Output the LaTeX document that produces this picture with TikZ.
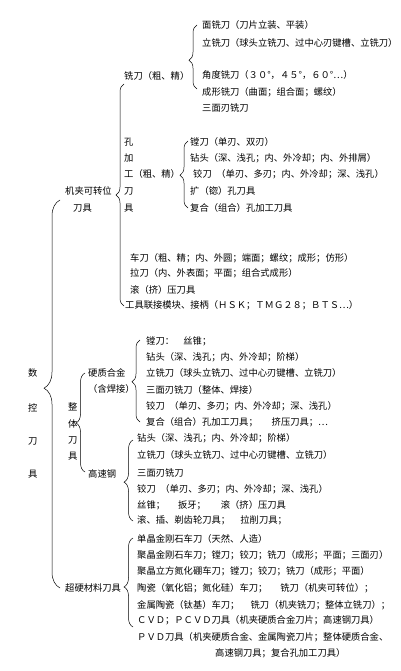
\documentclass[tikz,border=0pt]{standalone}
\usepackage{fontspec}
\setmainfont{Noto Sans CJK SC}
\usetikzlibrary{decorations.pathreplacing}

\tikzset{
  txt/.style={anchor=west, inner sep=0pt, font=\fontsize{9.3}{11}\selectfont},
  brc/.style 2 args={decorate, decoration={brace, amplitude=#1, aspect=#2}, line width=0.5pt},
}

\begin{document}
\begin{tikzpicture}[x=1pt,y=-1pt]
  \useasboundingbox (0,0) rectangle (400,671);

  % root column
  \foreach \c/\y [count=\i] in {数/373,控/408,刀/441,具/474}
    \node[txt] (root\i) at (28,\y) {\c};

  % first level
  \node[txt] (jj1) at (65,191) {机夹可转位};
  \node[txt] (jj2) at (73,208) {刀具};
  \foreach \c/\y [count=\i] in {整/407,体/424,刀/440,具/456}
    \node[txt] (zt\i) at (68,\y) {\c};
  \node[txt] (cy) at (65,588) {超硬材料刀具};

  % 机夹可转位刀具
  \node[txt] (mill) at (124,76) {铣刀（粗、精）};
  \foreach \t/\y [count=\i] in {面铣刀（刀片立装、平装）/25,
      立铣刀（球头立铣刀、过中心刃键槽、立铣刀）/43,
      角度铣刀（３０°，４５°，６０°…）/75,
      成形铣刀（曲面；组合面；螺纹）/92,
      三面刃铣刀/108}
    \node[txt] (mill\i) at (202,\y) {\t};

  \foreach \c/\y [count=\i] in {孔/142,加/158,工（粗、精）/174,刀/191,具/208}
    \node[txt] (hole\i) at (124,\y) {\c};
  \foreach \t/\y [count=\i] in {镗刀（单刃、双刃）/142,
      钻头（深、浅孔；内、外冷却；内、外排屑）/158,
      \hspace*{3pt}铰刀\hspace{0.5em}（单刃、多刃；内、外冷却；深、浅孔）/174,
      扩（锪）孔刀具/191,
      复合（组合）孔加工刀具/208}
    \node[txt] (hk\i) at (190,\y) {\t};

  \foreach \t/\y [count=\i] in {车刀（粗、精；内、外圆；端面；螺纹；成形；仿形）/258,
      拉刀（内、外表面；平面；组合式成形）/273,
      滚（挤）压刀具/290}
    \node[txt] (jx\i) at (130,\y) {\t};
  \node[txt] (lj) at (125,305) {工具联接模块、接柄（ＨＳＫ；ＴＭＧ２８；ＢＴＳ…）};

  % 整体刀具
  \node[txt] (yz1) at (88,373) {硬质合金};
  \node[txt] (yz2) at (88,389) {（含焊接）};
  \node[txt] (gs) at (88,474) {高速钢};
  \foreach \t/\y [count=\i] in {镗刀：\hspace{1em}丝锥；/341,
      钻头（深、浅孔；内、外冷却；阶梯）/357,
      立铣刀（球头立铣刀、过中心刃键槽、立铣刀）/373,
      三面刃铣刀（整体、焊接）/390,
      铰刀\hspace{0.5em}（单刃、多刃；内、外冷却；深、浅孔）/406,
      复合（组合）孔加工刀具；\hspace{1.5em}挤压刀具；…/422}
    \node[txt] (yzk\i) at (146,\y) {\t};
  \foreach \t/\y [count=\i] in {钻头（深、浅孔；内、外冷却；阶梯）/438,
      立铣刀（球头立铣刀、过中心刃键槽、立铣刀）/455,
      三面刃铣刀/473,
      铰刀\hspace{0.5em}（单刃、多刃；内、外冷却；深、浅孔）/489,
      丝锥；\hspace{1.4em}扳牙；\hspace{1.6em}滚（挤）压刀具/505,
      滚、插、剃齿轮刀具；\hspace{1.1em}拉削刀具；/520}
    \node[txt] (gsk\i) at (137,\y) {\t};

  % 超硬材料刀具
  \foreach \t/\y [count=\i] in {单晶金刚石车刀（天然、人造）/539,
      聚晶金刚石车刀；镗刀；铰刀；铣刀（成形；平面；三面刃）/555,
      聚晶立方氮化硼车刀；镗刀；铰刀；铣刀（成形；平面）/571,
      陶瓷（氧化铝；氮化硅）车刀；\hspace{1.4em}铣刀（机夹可转位）；/588,
      金属陶瓷（钛基）车刀；\hspace{1.2em}铣刀（机夹铣刀；整体立铣刀）；/605,
      ＣＶＤ；ＰＣＶＤ刀具（机夹硬质合金刀片；高速钢刀具）/620,
      ＰＶＤ刀具（机夹硬质合金、金属陶瓷刀片；整体硬质合金、/637}
    \node[txt] (cyk\i) at (137,\y) {\t};
  \node[txt] (cyk8) at (215,653) {高速钢刀具；复合孔加工刀具）};

  % brace ends
  \coordinate (rootT) at (60,200);  \coordinate (rootB) at (60,588);
  \coordinate (jjT) at (124,84);    \coordinate (jjB) at (124,306);
  \coordinate (millT) at (197,25);  \coordinate (millB) at (197,89);
  \coordinate (holeT) at (188,141); \coordinate (holeB) at (188,208);
  \coordinate (ztT) at (85,373);    \coordinate (ztB) at (85,472);
  \coordinate (yzT) at (140,340);   \coordinate (yzB) at (140,422);
  \coordinate (gsT) at (133,440);   \coordinate (gsB) at (133,521);
  \coordinate (cyT) at (133,538);   \coordinate (cyB) at (133,627);

  \draw[brc={16pt}{0.515}] (rootB) -- (rootT);
  \draw[brc={8pt}{0.5}] (jjB) -- (jjT);
  \draw[brc={8pt}{0.45}] (millB) -- (millT);
  \draw[brc={8pt}{0.49}] (holeB) -- (holeT);
  \draw[brc={9pt}{0.495}] (ztB) -- (ztT);
  \draw[brc={8pt}{0.49}] (yzB) -- (yzT);
  \draw[brc={9pt}{0.48}] (gsB) -- (gsT);
  \draw[brc={9pt}{0.45}] (cyB) -- (cyT);
\end{tikzpicture}
\end{document}
